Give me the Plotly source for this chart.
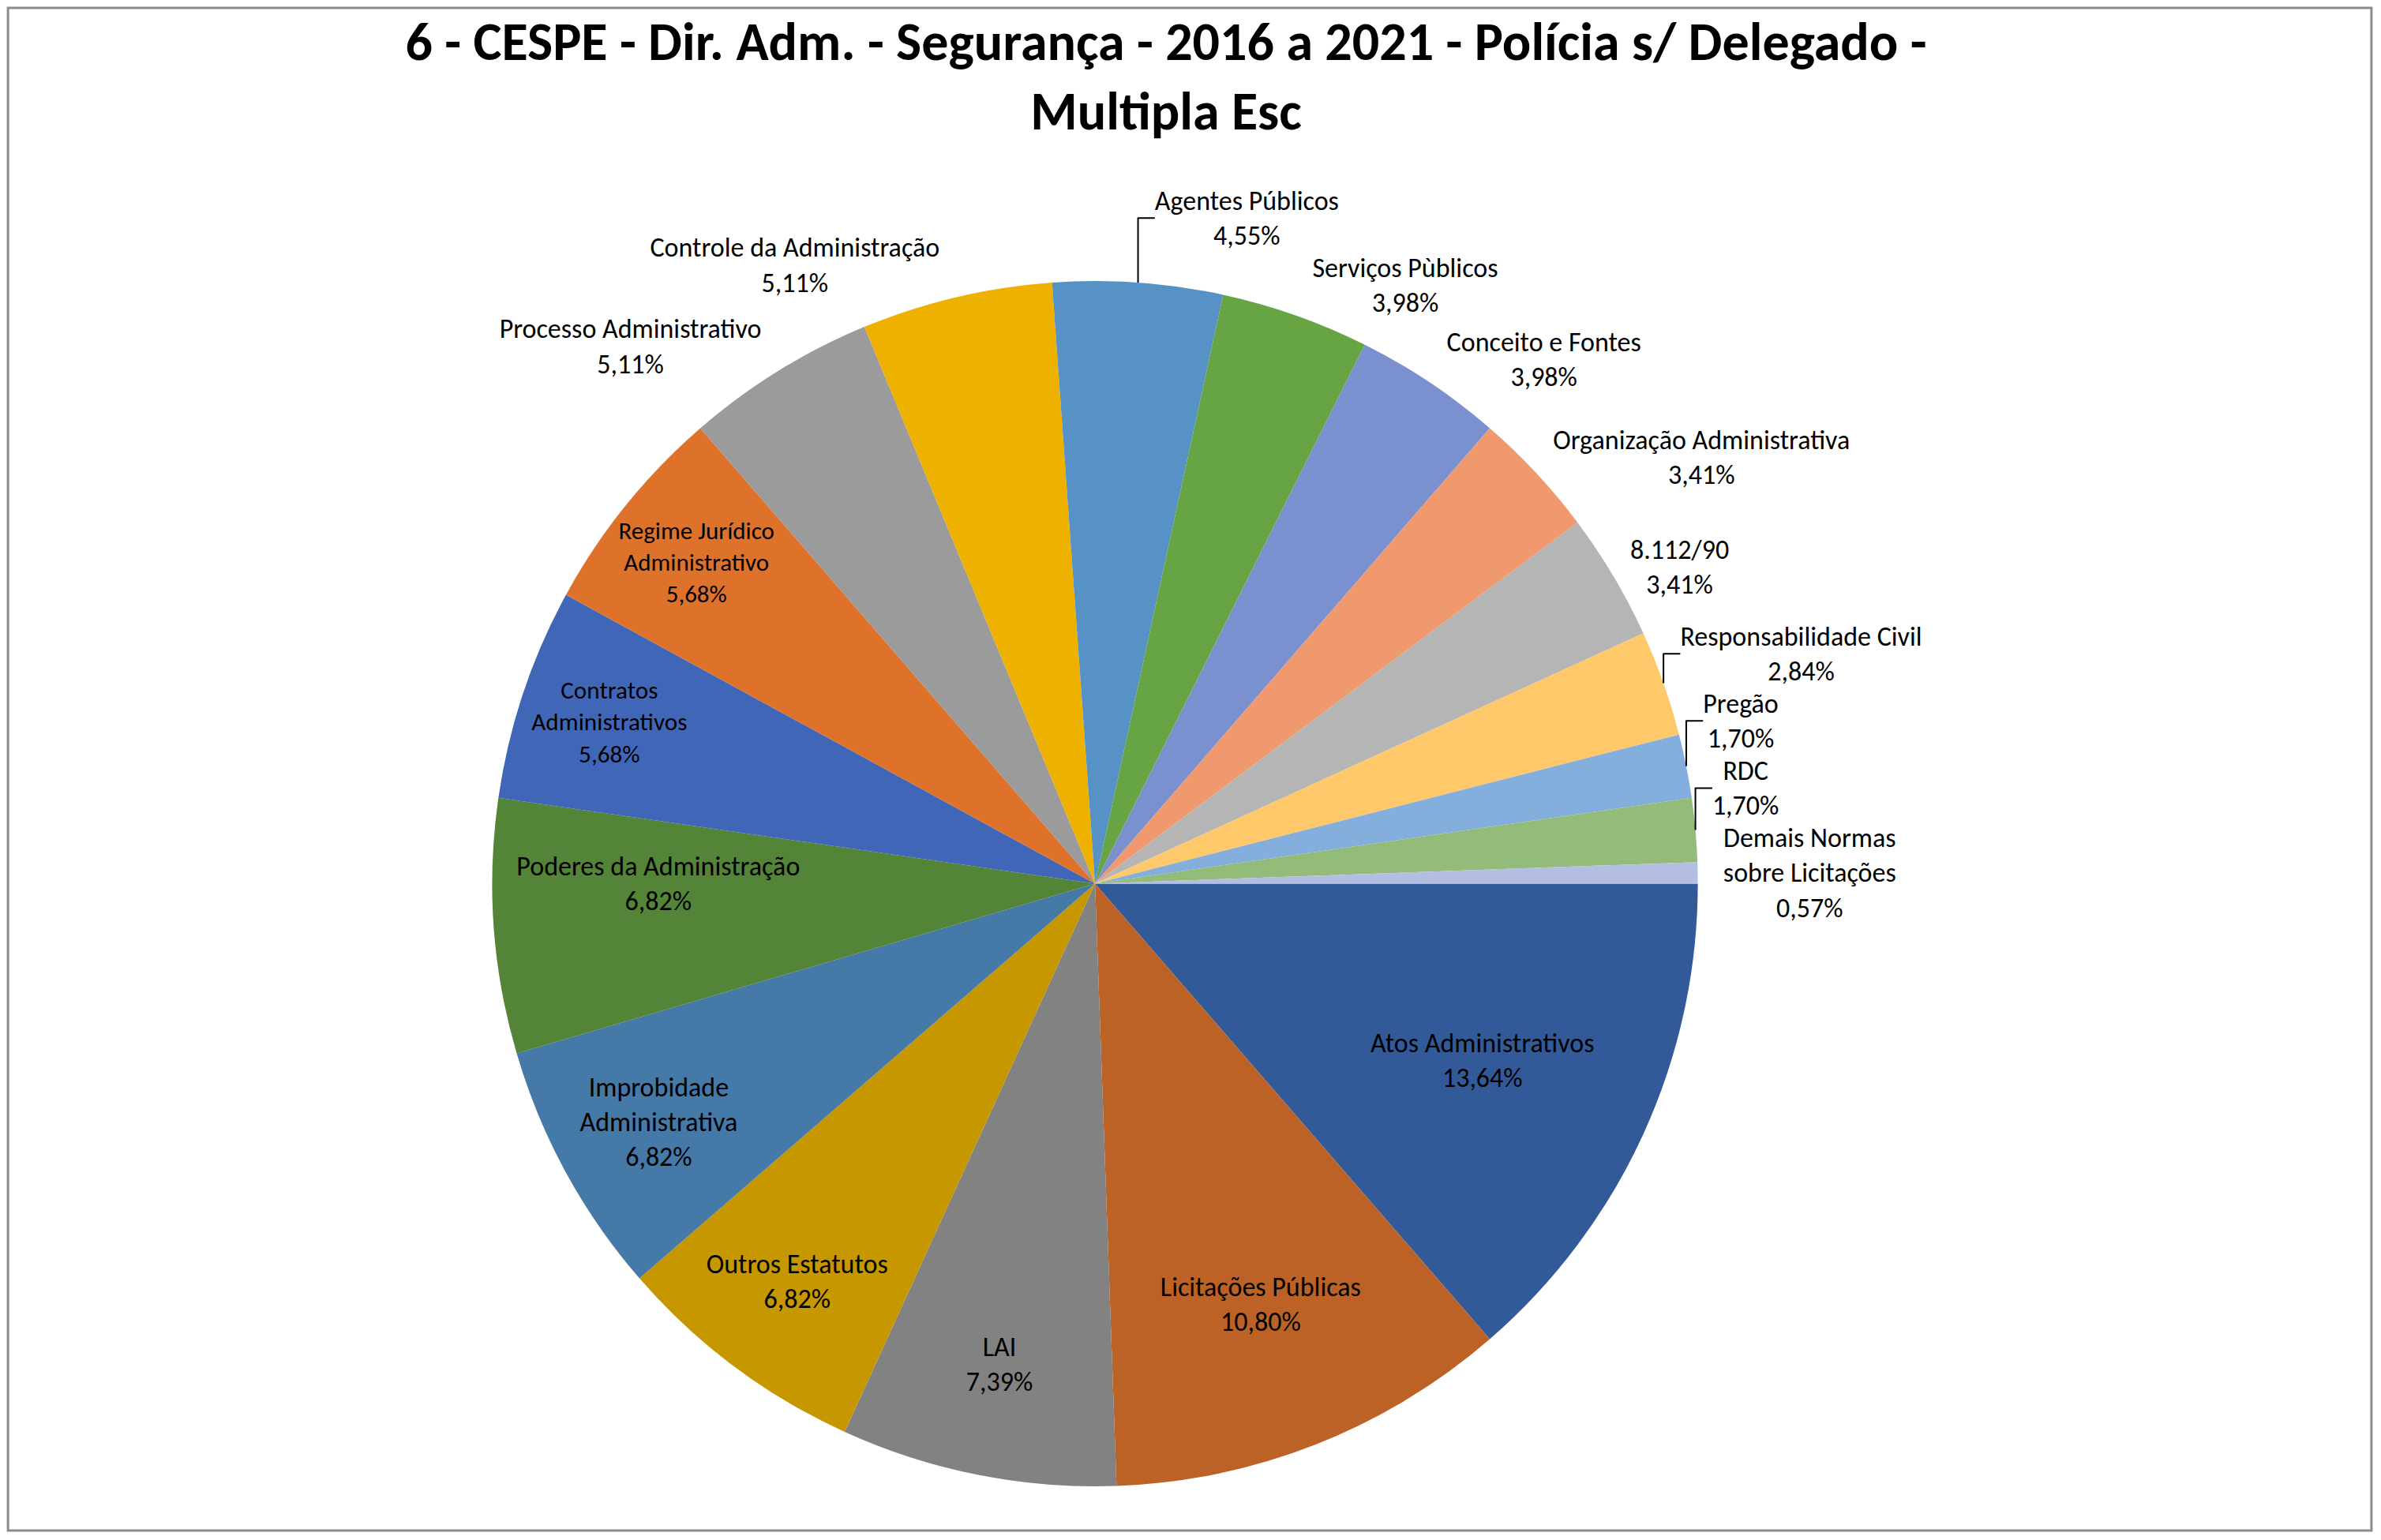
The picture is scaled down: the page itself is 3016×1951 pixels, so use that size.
import plotly.graph_objects as go

# temas e nº de questões (ordem do gráfico, sentido horário a partir das 3h)
temas = [
    'Atos Administrativos', 'Licitações Públicas', 'LAI', 'Outros Estatutos',
    'Improbidade<br>Administrativa', 'Poderes da Administração', 'Contratos<br>Administrativos',
    'Regime Jurídico<br>Administrativo', 'Processo Administrativo', 'Controle da Administração',
    'Agentes Públicos', 'Serviços Pùblicos', 'Conceito e Fontes',
    'Organização Administrativa', '8.112/90', 'Responsabilidade Civil',
    'Pregão', 'RDC', 'Demais Normas<br>sobre Licitações',
]
questoes = [24, 19, 13, 12, 12, 12, 10, 10, 9, 9, 8, 7, 7, 6, 6, 5, 3, 3, 1]

cores = [
    '#325A98', '#BD6226', '#828282', '#C79700', '#4579A8', '#548437', '#4067B7',
    '#DF722A', '#9B9B9B', '#EFB100', '#5792C6', '#67A443', '#7B90CF', '#F0996F',
    '#B5B5B5', '#FFC86B', '#84AFDC', '#93BB7A', '#B3BEE2',
]

posicao = ['inside'] * 8 + ['outside'] * 11

fig = go.Figure(go.Pie(
    labels=temas,
    values=questoes,
    sort=False,
    direction='clockwise',
    rotation=90,
    marker=dict(colors=cores, line=dict(width=0)),
    texttemplate='%{label}<br>%{percent:.2%}',
    textposition=posicao,
    insidetextorientation='horizontal',
    textfont=dict(size=34, color='black'),
    outsidetextfont=dict(size=34, color='black'),
    domain=dict(x=[0.12, 0.80], y=[0.03, 0.82]),
    showlegend=False,
    hoverinfo='label+percent',
))

fig.update_layout(
    width=2998,
    height=1933,
    separators=',.',
    font_family='Carlito, Liberation Sans Narrow, Noto Sans',
    title=dict(
        text='<b>6 - CESPE - Dir. Adm. - Segurança - 2016 a 2021 - Polícia s/ Delegado -<br>Multipla Esc</b>',
        x=0.49, xanchor='center', y=0.965, yanchor='top',
        font=dict(size=68, color='black'),
    ),
    paper_bgcolor='white',
    plot_bgcolor='white',
    margin=dict(l=0, r=0, t=0, b=0),
    shapes=[dict(type='rect', xref='paper', yref='paper', x0=0.0007, y0=0.001, x1=0.9993, y1=0.999,
                 line=dict(color='#8C8C8C', width=3))],
)

fig.write_html('out.html')
